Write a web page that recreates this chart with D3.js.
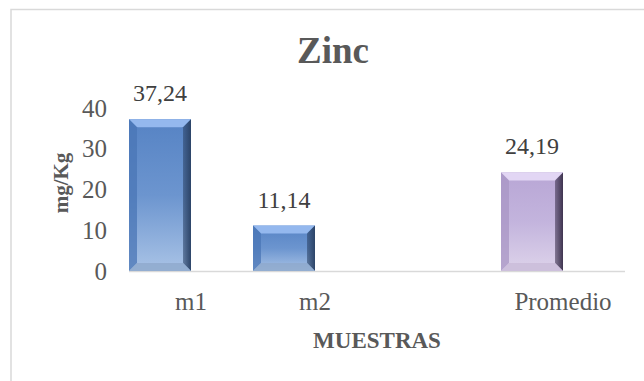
<!DOCTYPE html>
<html>
<head>
<meta charset="utf-8">
<script src="https://cdn.jsdelivr.net/npm/d3@7/dist/d3.min.js"></script>
<style>
  html, body { margin: 0; padding: 0; background: #ffffff; }
  svg { display: block; }
  text { font-family: "Liberation Serif", "Times New Roman", serif; }
</style>
</head>
<body>
<svg id="chart" width="644" height="381"></svg>
<script>
// Datos: contenido de zinc por muestra (mg/Kg)
const categorias = ["m1", "m2", "", "Promedio"];
const valores = [37.24, 11.14, null, 24.19];
const etiquetas = ["37,24", "11,14", "", "24,19"];
const tipoBarra = ["muestra", "muestra", "", "promedio"];
const ticksY = [0, 10, 20, 30, 40];

const FUENTE = "\"Liberation Serif\", \"Times New Roman\", serif";
const svg = d3.select("#chart");

// Marco del gráfico
svg.append("rect")
  .attr("x", 11).attr("y", 9.5)
  .attr("width", 700).attr("height", 420)
  .attr("fill", "#ffffff")
  .attr("stroke", "#d9d9d9").attr("stroke-width", 1.5);

const plot = { left: 129, right: 625, top: 108, bottom: 271 };

const x = d3.scaleBand().domain(categorias.map((c, i) => i))
  .range([plot.left, plot.right]).padding(0);
const xSub = d3.scaleBand().domain(["serie", "vacio"]).range([0, x.bandwidth()]);
const y = d3.scaleLinear().domain([0, 40]).range([plot.bottom, plot.top]);

// Degradados de las barras
const defs = svg.append("defs");
const paletas = {
  muestra: { top: "#5683c4", mid: "#6c95cf", bot: "#a9c3e6",
             bevTop: "#94b8ee", bevLeft: "#4a76b6", bevRight: "#2c4468", bevBot: "#8fa9cc" },
  promedio: { top: "#b8a6d5", mid: "#c3b4dd", bot: "#ddd3ea",
              bevTop: "#e2d6f4", bevLeft: "#a896c4", bevRight: "#3f3450", bevBot: "#c9bcd8" }
};
Object.entries(paletas).forEach(([k, p]) => {
  const g = defs.append("linearGradient").attr("id", "grad-" + k)
    .attr("x1", 0).attr("y1", 0).attr("x2", 0).attr("y2", 1);
  g.append("stop").attr("offset", "0%").attr("stop-color", p.top);
  g.append("stop").attr("offset", "50%").attr("stop-color", p.mid);
  g.append("stop").attr("offset", "100%").attr("stop-color", p.bot);
  const r = defs.append("linearGradient").attr("id", "gradR-" + k)
    .attr("x1", 0).attr("y1", 0).attr("x2", 1).attr("y2", 0);
  r.append("stop").attr("offset", "0%").attr("stop-color", p.bevRight).attr("stop-opacity", 0.55);
  r.append("stop").attr("offset", "100%").attr("stop-color", p.bevRight).attr("stop-opacity", 1);
});

// Eje X (línea base)
svg.append("line")
  .attr("x1", plot.left).attr("x2", plot.right)
  .attr("y1", y(0) + 0.5).attr("y2", y(0) + 0.5)
  .attr("stroke", "#d9d9d9").attr("stroke-width", 1.5);

// Barras con efecto biselado
const datos = categorias.map((c, i) => ({ i, c, v: valores[i], t: etiquetas[i], tipo: tipoBarra[i] }))
  .filter(d => d.v !== null);

const barras = svg.append("g").selectAll("g").data(datos).join("g");
const b = 8; // ancho del bisel
barras.each(function(d) {
  const g = d3.select(this);
  const p = paletas[d.tipo];
  const x0 = x(d.i) + xSub("serie");
  const w = xSub.bandwidth();
  const y0 = y(d.v), y1 = y(0);
  g.append("rect").attr("x", x0).attr("y", y0).attr("width", w).attr("height", y1 - y0)
    .attr("fill", "url(#grad-" + d.tipo + ")");
  const poly = pts => pts.map(q => q.join(",")).join(" ");
  // superior
  g.append("polygon").attr("points", poly([[x0, y0], [x0 + w, y0], [x0 + w - b, y0 + b], [x0 + b, y0 + b]]))
    .attr("fill", p.bevTop);
  // izquierda
  g.append("polygon").attr("points", poly([[x0, y0], [x0 + b, y0 + b], [x0 + b, y1 - b], [x0, y1]]))
    .attr("fill", p.bevLeft).attr("opacity", 0.75);
  // derecha
  g.append("polygon").attr("points", poly([[x0 + w, y0], [x0 + w, y1], [x0 + w - b, y1 - b], [x0 + w - b, y0 + b]]))
    .attr("fill", "url(#gradR-" + d.tipo + ")");
  // inferior
  g.append("polygon").attr("points", poly([[x0, y1], [x0 + b, y1 - b], [x0 + w - b, y1 - b], [x0 + w, y1]]))
    .attr("fill", p.bevBot).attr("opacity", 0.8);
  // etiqueta de valor
  g.append("text")
    .attr("x", x0 + w / 2).attr("y", y0 - 18)
    .attr("text-anchor", "middle")
    .attr("font-family", FUENTE)
    .attr("font-size", 24).attr("fill", "#404040")
    .text(d.t);
});

// Eje Y
const ejeY = d3.axisLeft(y).tickValues(ticksY).tickSize(0).tickPadding(0).tickFormat(d3.format("d"));
const gY = svg.append("g").attr("transform", `translate(${107},0)`).call(ejeY)
  .attr("font-family", FUENTE);
gY.select(".domain").remove();
gY.selectAll("text").attr("font-size", 25).attr("fill", "#595959").attr("font-family", FUENTE);

// Eje X (etiquetas de categoría)
const ejeX = d3.axisBottom(x).tickSize(0).tickPadding(0).tickFormat(i => categorias[i]);
const gX = svg.append("g").attr("transform", `translate(0,${292})`).call(ejeX)
  .attr("font-family", FUENTE);
gX.select(".domain").remove();
gX.selectAll("text").attr("font-size", 25).attr("fill", "#595959").attr("font-family", FUENTE);

// Título
svg.append("text")
  .attr("x", 333).attr("y", 63)
  .attr("text-anchor", "middle").attr("font-family", FUENTE)
  .attr("font-size", 37).attr("font-weight", "bold").attr("fill", "#595959")
  .text("Zinc");

// Títulos de ejes
svg.append("text")
  .attr("x", (plot.left + plot.right) / 2).attr("y", 348)
  .attr("text-anchor", "middle").attr("font-family", FUENTE)
  .attr("font-size", 23).attr("font-weight", "bold").attr("fill", "#595959")
  .text("MUESTRAS");

svg.append("text")
  .attr("transform", `translate(${68},${183}) rotate(-90)`)
  .attr("text-anchor", "middle").attr("font-family", FUENTE)
  .attr("font-size", 21).attr("font-weight", "bold").attr("fill", "#595959")
  .text("mg/Kg");
</script>
</body>
</html>
